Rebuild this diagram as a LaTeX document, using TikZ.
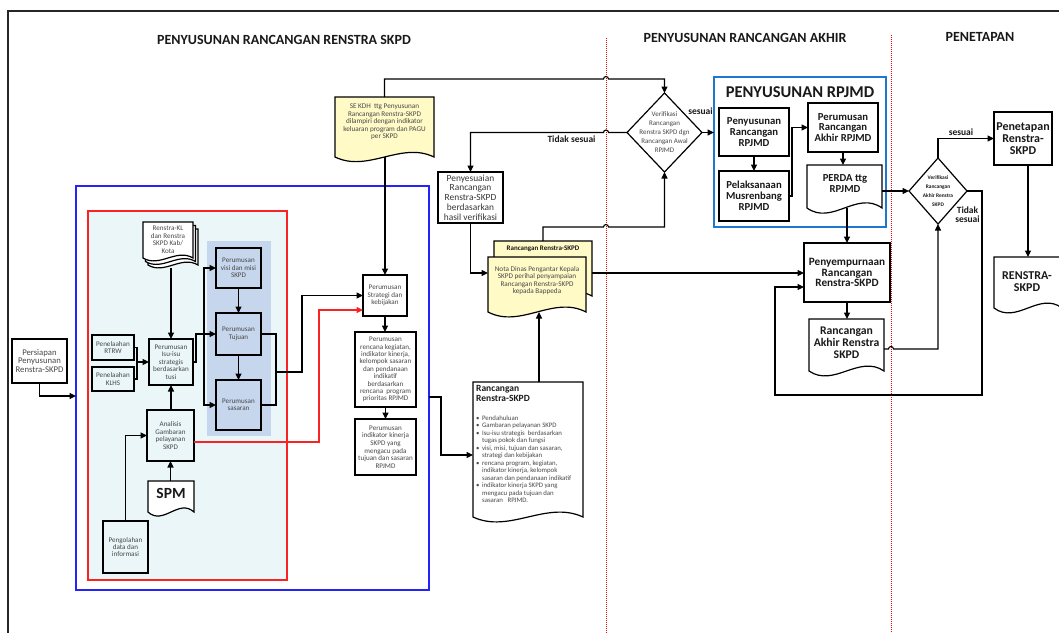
\documentclass[tikz,border=0pt]{standalone}
\usepackage{fontspec}
\setmainfont{Carlito}
\usetikzlibrary{arrows.meta,calc,shapes.geometric}
\newcommand{\fsz}[2]{\fontsize{#1}{#2}\selectfont}
\definecolor{txt}{RGB}{72,72,72}
\definecolor{dark}{RGB}{25,25,25}
\definecolor{cyanbg}{RGB}{234,246,248}
\definecolor{shade}{RGB}{198,214,237}
\definecolor{yel}{RGB}{255,250,198}
\definecolor{bbox}{RGB}{35,35,250}
\definecolor{rbox}{RGB}{250,35,35}
\definecolor{rpj}{RGB}{30,120,210}
\newcommand{\docout}[3]{%
 \draw[docline, fill=#3] (#1.south west) -- (#1.north west) -- (#1.north east) -- (#1.south east)
  .. controls ($(#1.south east)!1/3!(#1.south west)+(0,#2)$) and ($(#1.south east)!2/3!(#1.south west)+(0,-#2)$) .. (#1.south west) -- cycle;}
\tikzset{
 box/.style={draw=black, line width=1.2pt, inner sep=0pt, outer sep=0pt, align=center, text=txt, font=\fsz{7.1}{7.4}},
 bbox/.style={draw=black, line width=1.2pt, inner sep=0pt, outer sep=0pt, align=center, text=dark, font=\bfseries\fsz{10.7}{10.8}},
 docarea/.style={inner sep=0pt, outer sep=0pt},
 docline/.style={draw=black, line width=1.2pt},
 dtext/.style={inner sep=0pt, align=center, text=txt, font=\fsz{7.2}{7.5}},
 conn/.style={draw=black, line width=1.1pt},
 arr/.style={conn, -{Triangle[length=6.5pt,width=6pt]}},
 redarr/.style={draw=rbox, line width=1.1pt, -{Triangle[length=6.5pt,width=6pt]}},
 lbl/.style={inner sep=0pt, text=dark, font=\bfseries\fsz{9.5}{9.5}, align=center},
 dia/.style={diamond, draw=black, line width=1.2pt, inner sep=0pt, outer sep=0pt, fill=white},
 head/.style={inner sep=0pt, text=dark, font=\bfseries\fsz{14}{14}},
 sep/.style={draw=red, line width=0.8pt, dash pattern=on 1pt off 1pt},
}
\begin{document}
\begin{tikzpicture}[x=1pt,y=-1pt]
\useasboundingbox (0,0) rectangle (1059,632);
\clip (0,0) rectangle (1059,632);
\fill[white] (0,0) rectangle (1059,632);
% frame
\draw[line width=1.3pt, black!85] (1070,11) -- (8,11) -- (8,645);
% headers
\node[head] (h1) at (284,40) {PENYUSUNAN RANCANGAN RENSTRA SKPD};
\node[head] (h2) at (745,38) {PENYUSUNAN RANCANGAN AKHIR};
\node[head] (h3) at (980,37) {PENETAPAN};
% separators
\draw[sep] (606,38) -- (606,640);
\draw[sep] (891,35) -- (891,640);
% containers
\node[draw=bbox, line width=1.5pt, inner sep=0pt, outer sep=0pt, minimum width=353pt, minimum height=404pt] (bluebox) at (252.5,388) {};
\node[draw=rbox, fill=cyanbg, line width=1.3pt, inner sep=0pt, outer sep=0pt, minimum width=199pt, minimum height=369pt] (redbox) at (187.5,395.5) {};
\node[fill=shade, inner sep=0pt, outer sep=0pt, minimum width=64pt, minimum height=195pt] (shadebox) at (239,338.5) {};
\node[draw=rpj, line width=1.5pt, inner sep=0pt, outer sep=0pt, minimum width=172pt, minimum height=150pt] (rpjmdbox) at (800,152) {};
\node[inner sep=0pt, text=dark, font=\bfseries\fsz{16.5}{16.5}] (rpjt) at (800,92) {PENYUSUNAN RPJMD};

% left nodes
\node[box, minimum width=55pt, minimum height=44pt, font=\fsz{8.7}{8.4}] (persiapan) at (39.5,361) {Persiapan\\Penyusunan\\Renstra-SKPD};
\node[box, minimum width=42pt, minimum height=25pt] (rtrw) at (113,347.5) {Penelaahan\\RTRW};
\node[box, minimum width=42pt, minimum height=24pt] (klhs) at (113,379) {Penelaahan\\KLHS};
\node[box, minimum width=44pt, minimum height=46pt] (isu) at (171,362) {Perumusan\\Isu-isu\\strategis\\berdasarkan\\tusi};
\node[box, minimum width=45pt, minimum height=40pt] (visi) at (238.5,268) {Perumusan\\visi dan misi\\SKPD};
\node[box, minimum width=45pt, minimum height=42pt] (tujuan) at (238.5,334) {Perumusan\\Tujuan};
\node[box, minimum width=45pt, minimum height=50pt] (sasaran) at (238.5,405) {Perumusan\\sasaran};
\node[box, minimum width=47pt, minimum height=51pt] (analisis) at (170.5,435.5) {Analisis\\Gambaran\\pelayanan\\SKPD};
\node[box, minimum width=45pt, minimum height=52pt] (pengolahan) at (125.5,547) {Pengolahan\\data dan\\informasi};
% renstra-kl stack
\node[docarea, minimum width=50pt, minimum height=36pt] (rkl3) at (173,247) {};
\node[docarea, minimum width=50pt, minimum height=36pt] (rkl2) at (170.5,243.5) {};
\node[docarea, minimum width=50pt, minimum height=36pt] (rkl) at (168,240) {};
\docout{rkl3}{10pt}{white}
\docout{rkl2}{10pt}{white}
\docout{rkl}{10pt}{white}
\node[dtext, font=\fsz{7.1}{7.5}] (rklt) at (168,239.5) {Renstra-KL\\dan Renstra\\SKPD Kab/\\Kota};
% SPM
\node[docarea, minimum width=46pt, minimum height=31pt] (spm) at (171,496.5) {};
\docout{spm}{14pt}{white}
\node[inner sep=0pt, text=dark, font=\bfseries\fsz{15.5}{15.5}] (spmt) at (171,493) {SPM};
% middle column
\node[docarea, minimum width=99pt, minimum height=60pt] (sekdh) at (384.5,127) {};
\docout{sekdh}{16pt}{yel}
\node[dtext] (sekdht) at (384.5,122) {SE KDH\ \ ttg Penyusunan\\Rancangan Renstra-SKPD\\dilampiri dengan indikator\\keluaran program dan PAGU\\per SKPD};
\node[box, minimum width=44pt, minimum height=41pt] (strategi) at (385,295.5) {Perumusan\\Strategi dan\\kebijakan};
\node[box, minimum width=61pt, minimum height=75pt] (rencana) at (385.5,369.5) {Perumusan\\rencana kegiatan,\\indikator kinerja,\\kelompok sasaran\\dan pendanaan\\indikatif\\berdasarkan\\rencana\ \ program\\prioritas RPJMD};
\node[box, minimum width=61pt, minimum height=56pt, font=\fsz{7.1}{7.6}] (indikator) at (385.5,447) {Perumusan\\indikator kinerja\\SKPD yang\\mengacu pada\\tujuan dan sasaran\\RPJMD};
% penyesuaian
\node[box, minimum width=65pt, minimum height=51pt, text={rgb,255:red,55;green,55;blue,55}, font=\fsz{9.4}{9.8}] (penyes) at (470.5,197.5) {Penyesuaian\\Rancangan\\Renstra-SKPD\\berdasarkan\\hasil verifikasi};
% nota stack
\node[docarea, minimum width=98pt, minimum height=55pt] (rrb) at (543,268.5) {};
\docout{rrb}{17pt}{yel}
\node[inner sep=0pt, text=dark, font=\bfseries\fsz{7}{7}] (rrbt) at (543,249) {Rancangan Renstra-SKPD};
\node[docarea, minimum width=98pt, minimum height=55pt] (nota) at (537,284.5) {};
\docout{nota}{17pt}{yel}
\node[dtext] (notat) at (537,280.5) {Nota Dinas Pengantar Kepala\\SKPD perihal penyampaian\\Rancangan Renstra-SKPD\\kepada Bappeda};
% rancangan renstra doc
\node[docarea, minimum width=110pt, minimum height=135pt] (rr) at (528,449.5) {};
\docout{rr}{17pt}{white}
\node[inner sep=0pt, anchor=north west, align=left, text=dark, font=\bfseries\fsz{9.5}{10}] (rrt) at (476,385.5) {Rancangan\\Renstra-SKPD};
\node[inner sep=0pt, anchor=north west, text=txt, font=\fsz{6.8}{7.5}] (rrl) at (476,415) {\begin{tabular}{@{}l@{\hspace{2.5pt}}l@{}}
\textbullet & Pendahuluan\\
\textbullet & Gambaran pelayanan SKPD\\
\textbullet & Isu-isu strategis\ \ berdasarkan\\
 & tugas pokok dan fungsi\\
\textbullet & visi, misi, tujuan dan sasaran,\\
 & strategi dan kebijakan\\
\textbullet & rencana program, kegiatan,\\
 & indikator kinerja, kelompok\\
 & sasaran dan pendanaan indikatif\\
\textbullet & indikator kinerja SKPD yang\\
 & mengacu pada tujuan dan\\
 & sasaran\ \ \ RPJMD.
\end{tabular}};
% verification 1
\node[dia, minimum width=75pt, minimum height=79pt] (ver1) at (664.5,132.5) {};
\node[inner sep=0pt, align=center, text=txt, font=\fsz{7}{9}] (ver1t) at (664.5,132) {Verifikasi\\Rancangan\\Renstra SKPD dgn\\Rancangan Awal\\RPJMD};
\node[lbl] (ls1) at (700.5,111) {sesuai};
\node[lbl] (lt1) at (571.5,139) {Tidak sesuai};
% RPJMD box contents
\node[bbox, minimum width=70pt, minimum height=48pt] (penyR) at (754,132) {Penyusunan\\Rancangan\\RPJMD};
\node[bbox, minimum width=70pt, minimum height=50pt] (pelaks) at (754,196) {Pelaksanaan\\Musrenbang\\RPJMD};
\node[bbox, minimum width=70pt, minimum height=49pt] (perAkhir) at (843,127.5) {Perumusan\\Rancangan\\Akhir RPJMD};
\node[docarea, minimum width=75pt, minimum height=43pt] (perda) at (844.5,186.5) {};
\docout{perda}{18pt}{white}
\node[inner sep=0pt, align=center, text=dark, font=\bfseries\fsz{10.7}{11}] (perdat) at (845,184) {PERDA ttg\\RPJMD};
% penyempurnaan
\node[bbox, minimum width=86pt, minimum height=59pt, font=\bfseries\fsz{11.2}{10.6}] (penyemp) at (847,272.5) {Penyempurnaan\\Rancangan\\Renstra-SKPD};
\node[docarea, minimum width=75pt, minimum height=52pt] (rAkhir) at (846.5,345) {};
\docout{rAkhir}{17pt}{white}
\node[inner sep=0pt, align=center, text=dark, font=\bfseries\fsz{11.7}{11.7}] (rAkhirt) at (846.5,342.7) {Rancangan\\Akhir Renstra\\SKPD};
% verification 2
\node[dia, minimum width=58pt, minimum height=66pt] (ver2) at (938,191) {};
\node[inner sep=0pt, align=center, text=dark, font=\bfseries\fsz{5.4}{9}] (ver2t) at (938,191) {Verifikasi\\Rancangan\\Akhir Renstra\\SKPD};
\node[lbl] (ls2) at (961,132) {sesuai};
\node[lbl, font=\bfseries\fsz{9.5}{9.3}] (lt2) at (967.5,214.5) {Tidak\\sesuai};
% penetapan
\node[bbox, minimum width=58pt, minimum height=53pt, font=\bfseries\fsz{12}{12}] (penetapan) at (1023,138.5) {Penetapan\\Renstra-\\SKPD};
\node[docarea, minimum width=68pt, minimum height=51pt] (renstra) at (1028,282.5) {};
\docout{renstra}{17pt}{white}
\node[inner sep=0pt, align=center, text=dark, font=\bfseries\fsz{12}{11.5}] (renstrat) at (1027,281.5) {RENSTRA-\\SKPD};

% ---------- connectors ----------
\draw[arr] (persiapan.south) |- (bluebox.west |- 0,396);
\coordinate (jn1) at (137,362);
\draw[conn] (rtrw.east) -| (jn1);
\draw[conn] (klhs.east) -| (jn1);
\draw[arr] (jn1) -- (isu.west);
\draw[arr] (isu.north |- 0,268) -- (isu.north);
\draw[arr] (isu.east) -- (196,362) |- (tujuan.west);
\coordinate (bus) at (204,334);
\draw[arr] (bus) |- (visi.west);
\draw[arr] (bus) |- (sasaran.west);
\draw[arr] (visi.south) -- (tujuan.north);
\draw[arr] (tujuan.south) -- (sasaran.north);
\coordinate (jn2) at (276,372);
\draw[conn] (tujuan.east) -| (jn2);
\draw[conn] (sasaran.east) -| (jn2);
\draw[arr] (jn2) -- (302,372) |- (strategi.west);
\draw[redarr] (analisis.east |- 0,442) -| (319,310) -- (strategi.west |- 0,310);
\draw[arr] (pengolahan.north) |- (analisis.west);
\draw[arr] (analisis.south |- spm.north) -- (analisis.south);
\draw[arr] (isu.south |- analisis.north) -- (isu.south);
\draw[arr] (strategi.north |- sekdh.south) -- (strategi.north);
\draw[arr] (strategi.south) -- (strategi.south |- rencana.north);
\draw[arr] (rencana.south) -- (indikator.north);
\draw[arr] (sekdh.north) |- (603.5,79) arc[start angle=180,end angle=0,radius=2.5pt] -| (ver1.north);
\draw[arr] (ver1.west) -- (608.5,132.5) arc[start angle=0,end angle=180,radius=2.5pt] -| (penyes.north);
\draw[arr] (penyes.south) |- (nota.west |- 0,273);
\draw[arr] (rrb.north) |- (603.5,227) arc[start angle=180,end angle=0,radius=2.5pt] -| (ver1.south);
\draw[arr] (rrb.east |- 0,273) -- (penyemp.west |- 0,273);
\draw[arr] (bluebox.east |- 0,397) -- ++(12pt,0) |- (rr.west |- 0,455);
\draw[arr] (rr.north -| 539,0) -- (nota.south -| 539,0);
\draw[arr] (ver1.east) -- (rpjmdbox.west |- ver1.east);
\draw[arr] (penyR.south) -- (pelaks.north);
\draw[arr] (pelaks.east) -- (792,196) |- (perAkhir.west);
\draw[arr] (perAkhir.south) -- (perAkhir.south |- perda.north);
\draw[arr] (perda.east |- ver2.west) -- (ver2.west);
\draw[arr] (penyemp.north |- perda.south) -- (penyemp.north);
\draw[arr] (penyemp.south) -- (penyemp.south |- rAkhir.north);
\draw[arr] (rAkhir.east |- 0,349) -- (888.5,349) arc[start angle=180,end angle=0,radius=2.5pt] -| (ver2.south);
\draw[arr] (ver2.north) |- (penetapan.west);
\draw[arr] (ver2.east) -- (982,191) |- (775,395) |- (penyemp.west |- 0,287);
\draw[arr] (penetapan.south -| renstra.north) -- (renstra.north);
\end{tikzpicture}
\end{document}
